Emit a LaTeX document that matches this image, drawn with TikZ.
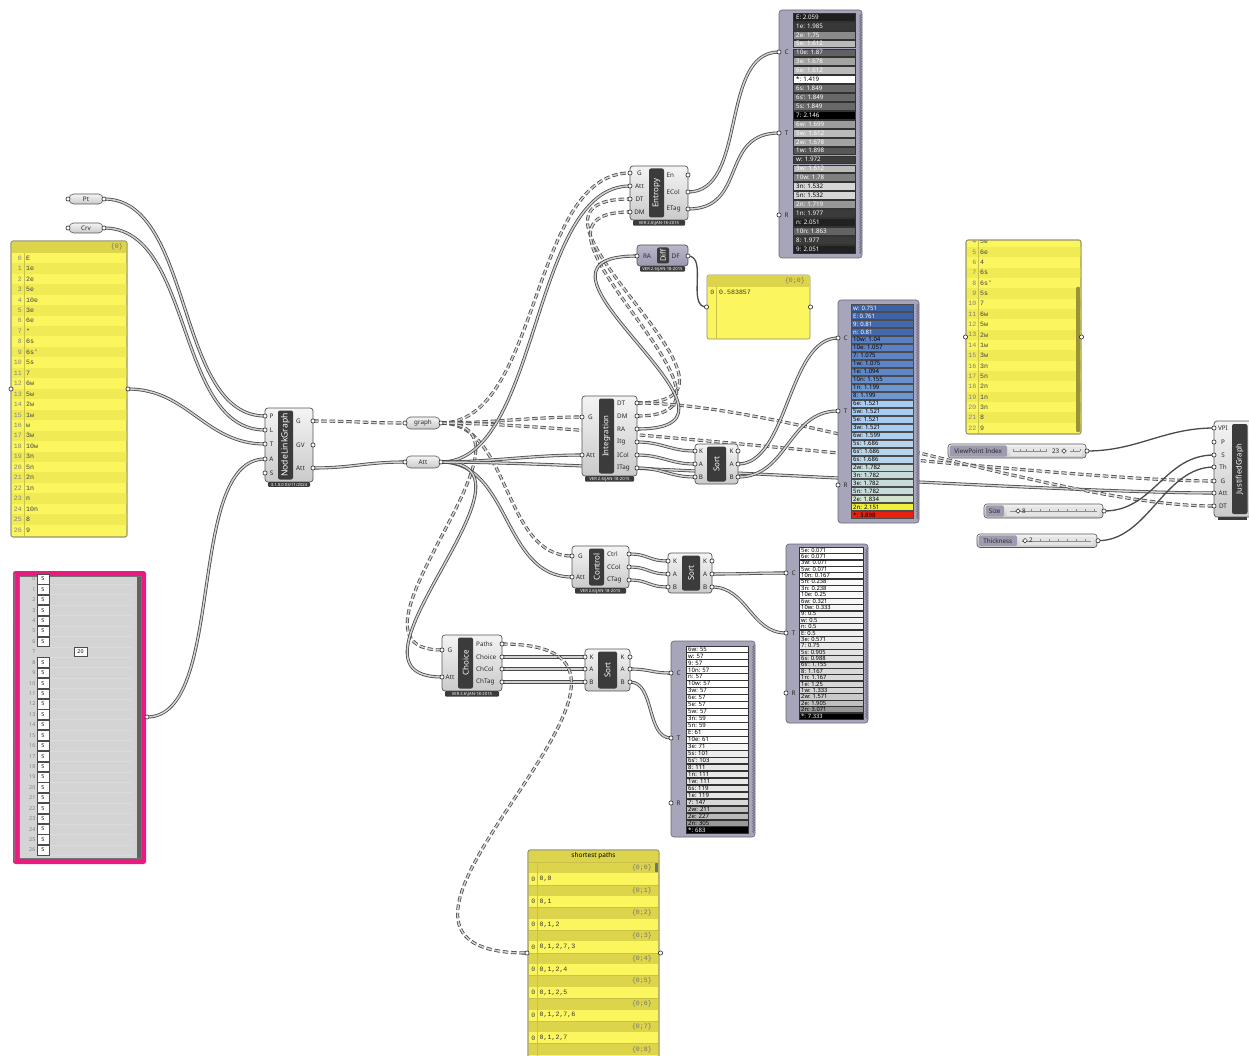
\documentclass[tikz,border=0pt]{standalone}
\usepackage{fontspec}
\setmainfont{Noto Sans}
\newfontfamily\panelfont{Liberation Mono}
\usetikzlibrary{decorations.pathmorphing}

\pgfdeclarelayer{back}
\pgfdeclarelayer{wires}
\pgfsetlayers{back,wires,main}

\definecolor{bodyedge}{HTML}{555555}
\definecolor{bodytop}{HTML}{F4F4F4}
\definecolor{bodybot}{HTML}{CACACA}
\definecolor{bardark}{HTML}{3B3B3B}
\definecolor{wirecol}{HTML}{4A4A4A}
\definecolor{wirefill}{HTML}{D2D2D2}
\definecolor{panelyel}{HTML}{FBF65E}
\definecolor{panelyel2}{HTML}{F0EB55}
\definecolor{panelhead}{HTML}{DCD54C}
\definecolor{paneledge}{HTML}{8C8A70}
\definecolor{panelline}{HTML}{C9C24A}
\definecolor{listframe}{HTML}{A6A5B9}
\definecolor{listedge}{HTML}{66667A}
\definecolor{pinkedge}{HTML}{EA1A80}
\definecolor{pinkin}{HTML}{D4D4D4}
\definecolor{diffA}{HTML}{BAB7CC}
\definecolor{diffB}{HTML}{9B98B0}
\definecolor{sliderlab}{HTML}{9D9BB0}
\definecolor{scrolldark}{HTML}{9A9235}

\tikzset{
  x=1pt, y=-1pt,
  body/.style={draw=bodyedge, line width=0.7pt, rounded corners=3pt,
    top color=bodytop, bottom color=bodybot},
  relay/.style={draw=bodyedge, line width=0.6pt, rounded corners=4.5pt,
    top color=bodytop, bottom color=bodybot},
  barbox/.style={fill=bardark, rounded corners=2pt},
  barlabel/.style={text=white, font=\bfseries\fontsize{8}{8}\selectfont, rotate=90, inner sep=0pt},
  plab/.style={font=\fontsize{6.3}{7}\selectfont, text=black!85, inner sep=0pt},
  grip/.style={circle, draw=black!85, fill=white, line width=0.6pt, inner sep=0pt, minimum size=4.2pt},
  vtag/.style={fill=bardark, rounded corners=1pt, text=white, font=\fontsize{4.2}{4.5}\selectfont, inner sep=0.8pt},
  wire/.style={draw=wirecol, double=wirefill, double distance=1.5pt, line width=0.8pt},
  treewire/.style={wire, dash pattern=on 5.5pt off 2.8pt},
  itemwire/.style={draw=wirecol, line width=1.3pt},
  ptext/.style={font=\panelfont\fontsize{6.6}{7}\selectfont, text=black!75, inner sep=0pt},
  itext/.style={font=\fontsize{6.2}{7}\selectfont, inner sep=0pt, anchor=west},
  listbox/.style={fill=listframe, draw=listedge, line width=0.6pt, rounded corners=3pt},
  teeth/.style={draw=listedge, line width=0.5pt, decorate,
    decoration={zigzag, segment length=2.6pt, amplitude=1pt}},
  yelbox/.style={draw=paneledge, fill=panelyel, line width=0.6pt, rounded corners=2pt},
}

\newcommand{\vertag}{VER 2.6\textbackslash JAN-18-2015}

% component: name, x1, y1, x2, y2, bar x1, bar x2, title, version tag
\newcommand{\ghcomp}[9]{%
  \path[body] (#2,#3) rectangle (#4,#5);
  \path[barbox] (#6,#3+2.5) rectangle (#7,#5-2.5);
  \node[barlabel] (#1-title) at ({(#6+#7)/2},{(#3+#5)/2}) {#8};
  \if\relax\detokenize{#9}\relax\else
    \node[vtag, anchor=north, minimum width={#4-#2-6}] (#1-ver) at ({(#2+#4)/2},#5) {#9};
  \fi
}
% input port: name, grip x, y, label x, label
\newcommand{\ghin}[5]{%
  \node[plab] (#1-lab) at (#4,#3) {#5};
  \node[grip] (#1) at (#2,#3) {};
}
% output port: label left-aligned at label x
\newcommand{\ghout}[5]{%
  \node[plab, anchor=west] (#1-lab) at (#4,#3) {#5};
  \node[grip] (#1) at (#2,#3) {};
}
% wire with horizontal tangents at both grips
\newcommand{\ghlink}[4][wire]{%
  \draw[#1] (#2.center) .. controls +(#4,0) and +(-#4,0) .. (#3.center);
}
% list output frame with serrated right edge
\newcommand{\listpanel}[4]{%
  \path[listbox] (#1,#2) rectangle (#3,#4);
  \draw[teeth] (#3-1.5,#2+4) -- (#3-1.5,#4-4);
}
\newcommand{\knob}[2]{%
  \draw[black!85, fill=white, line width=0.5pt] (#1,#2-2.3) -- (#1+2.3,#2) -- (#1,#2+2.3) -- (#1-2.3,#2) -- cycle;
}
\newcommand{\pathrow}[2]{%
  \fill[panelhead] (528.5,{862+22.7*#1}) rectangle (658.5,{873.35+22.7*#1});
  \draw[panelline, line width=0.4pt] (528.5,{862+22.7*#1}) -- (658.5,{862+22.7*#1});
  \node[ptext, anchor=east, text=black!55] (sp-h#1) at (652,{867.7+22.7*#1}) {\{0;#1\}};
  \node[ptext, anchor=east] (sp-n#1) at (535.5,{879+22.7*#1}) {0};
  \node[ptext, anchor=west, text=black!80] (sp-t#1) at (539.5,{879+22.7*#1}) {#2};
}

\begin{document}
\begin{tikzpicture}
\useasboundingbox (0,0) rectangle (1249,1056);
\begin{pgfonlayer}{back}
  \fill[white] (0,0) rectangle (1249,1056);
\end{pgfonlayer}

% ---------- Pt and Crv parameters ----------
\path[relay] (69,194) rectangle (103,204);
\node[plab] (pt-name) at (86,199) {Pt};
\node[grip] (pt-i) at (68,199) {};
\node[grip] (pt-o) at (104,199) {};
\path[relay] (69,223) rectangle (103,233);
\node[plab] (crv-name) at (86,228) {Crv};
\node[grip] (crv-i) at (68,228) {};
\node[grip] (crv-o) at (104,228) {};

% ---------- node tag panel ----------
\path[yelbox] (11,241) rectangle (127,537);
\fill[panelhead] (11.5,241.5) rectangle (126.5,253);
\node[ptext, anchor=east, text=black!55] (lp-head) at (123,247) {\{0\}};
\foreach \lbl [count=\i from 0] in {E,1e,2e,5e,10e,3e,6e,*,6s,6s',5s,7,6w,5w,2w,1w,w,3w,10w,3n,5n,2n,1n,n,10n,8,9}{
  \pgfmathsetmacro\yy{258+10.46*\i}
  \ifodd\i \fill[panelyel2] (11.5,\yy-5.2) rectangle (126.5,\yy+5.2); \fi
  \node[ptext, anchor=east, text=black!50] (lp-n\i) at (22,\yy) {\i};
  \node[ptext, anchor=west] (lp-t\i) at (26,\yy) {\lbl};
}
\draw[panelline, line width=0.5pt] (24,253) -- (24,536.5);
\draw[paneledge, line width=0.6pt, rounded corners=2pt] (11,241) rectangle (127,537);
\node[grip] (lp-i) at (11,389) {};
\node[grip] (lp-o) at (128,389) {};

% ---------- sizes panel ----------
\path[fill=pinkedge, rounded corners=2.5pt] (13,571) rectangle (146,864);
\path[fill=pinkin, draw=black!55, line width=0.5pt] (19,576.5) rectangle (141,858.5);
\fill[black!62] (136.5,577) rectangle (140.5,858);
\draw[black!50, line width=0.5pt, decorate, decoration={zigzag, segment length=2.4pt, amplitude=0.9pt}] (14.5,574) -- (14.5,861);
\foreach \i in {0,...,26}{
  \pgfmathsetmacro\yy{579+10.42*\i}
  \draw[black!14, line width=0.4pt] (50,\yy+5.2) -- (132,\yy+5.2);
  \node[font=\fontsize{5.3}{6}\selectfont, text=black!50, anchor=east, inner sep=0pt] (pk-n\i) at (35.5,\yy) {\i};
  \ifnum\i=7 \else
    \draw[black!70, fill=white, line width=0.45pt] (37,\yy-4.8) rectangle (49,\yy+4.8);
    \node[font=\fontsize{5.3}{6}\selectfont, inner sep=0pt] (pk-v\i) at (43,\yy) {5};
  \fi
}
\draw[black!70, fill=white, line width=0.45pt] (74,647.5) rectangle (87,656.5);
\node[font=\fontsize{5.3}{6}\selectfont, inner sep=0pt] (pk-v7) at (80.5,652) {20};
\node[grip] (pk-o) at (147,717) {};

% ---------- NodeLinkGraph ----------
\ghcomp{nlg}{265}{408}{313}{482}{278}{293}{{\fontsize{8.6}{9}\selectfont NodeLinkGraph}}{3.1.0.0 03/11/2024}
\ghin{nlg-P}{265}{416}{271.5}{P}
\ghin{nlg-L}{265}{430}{271.5}{L}
\ghin{nlg-T}{265}{444}{271.5}{T}
\ghin{nlg-A}{265}{459}{271.5}{A}
\ghin{nlg-S}{265}{473}{271.5}{S}
\ghout{nlg-G}{313}{421}{296}{G}
\ghout{nlg-GV}{313}{445}{296}{GV}
\ghout{nlg-Att}{313}{468}{296}{Att}

% ---------- relays ----------
\path[relay] (406,417) rectangle (440,429);
\node[plab] (gr-name) at (423,423) {graph};
\node[grip] (gr-i) at (405,423) {};
\node[grip] (gr-o) at (441,423) {};
\path[relay] (406,456) rectangle (440,468);
\node[plab] (at-name) at (423,462) {Att};
\node[grip] (at-i) at (405,462) {};
\node[grip] (at-o) at (441,462) {};

% ---------- Entropy ----------
\ghcomp{en}{630}{166}{688}{220}{649}{664}{Entropy}{\vertag}
\ghin{en-G}{630}{173}{639.5}{G}
\ghin{en-Att}{630}{186}{639.5}{Att}
\ghin{en-DT}{630}{199}{639.5}{DT}
\ghin{en-DM}{630}{212}{639.5}{DM}
\ghout{en-En}{688}{175}{666.5}{En}
\ghout{en-ECol}{688}{192}{666.5}{ECol}
\ghout{en-ETag}{688}{209}{666.5}{ETag}

% entropy values
\listpanel{779}{10}{862}{258}
\foreach \lbl/\pc [count=\i from 0] in {E: 2.059/12, 1e: 1.985/22, 2e: 1.75/54, 5e: 1.612/73, 10e: 1.87/38, 3e: 1.678/64, 6e: 1.612/73, *: 1.419/100, 6s: 1.849/41, 6s': 1.849/41, 5s: 1.849/41, 7: 2.146/0, 6w: 1.699/61, 5w: 1.612/73, 2w: 1.678/64, 1w: 1.898/34, w: 1.972/24, 3w: 1.612/73, 10w: 1.78/50, 3n: 1.532/84, 5n: 1.532/84, 2n: 1.719/59, 1n: 1.977/23, n: 2.051/13, 10n: 1.863/39, 8: 1.977/23, 9: 2.051/13}{
  \pgfmathsetmacro\yy{17+8.92*\i}
  \ifnum\pc<80 \def\tc{white}\else\def\tc{black}\fi
  \path[draw=black!80, line width=0.4pt, fill=white!\pc!black] (793,\yy-3.9) rectangle (855,\yy+3.9);
  \node[itext, text=\tc] (la-\i) at (796,\yy) {\lbl};
}
\ghin{l1-C}{779}{52}{786.5}{C}
\ghin{l1-T}{779}{133}{786.5}{T}
\ghin{l1-R}{779}{215}{786.5}{R}

% ---------- Diff ----------
\begin{scope}[body/.append style={top color=diffA, bottom color=diffB}]
\ghcomp{df}{637}{245}{688}{266}{657}{669}{{\fontsize{7.5}{8}\selectfont Diff}}{\vertag}
\end{scope}
\ghin{df-RA}{637}{256}{647}{RA}
\ghout{df-DF}{688}{256}{671.5}{DF}

\path[yelbox] (707,275) rectangle (810,339);
\fill[panelhead] (707.5,275.5) rectangle (809.5,287);
\node[ptext, anchor=east, text=black!55] (sm-head) at (805,281) {\{0;0\}};
\draw[panelline, line width=0.5pt] (716.5,287) -- (716.5,338.5);
\node[ptext, anchor=east] (sm-n0) at (714.5,292.5) {0};
\node[ptext, anchor=west, text=black!80] (sm-t0) at (719,292.5) {0.583857};
\node[grip] (sm-i) at (706.5,307) {};
\node[grip] (sm-o) at (810.5,307) {};

% ---------- Integration ----------
\ghcomp{in}{582}{396}{637}{476}{599}{614}{{\fontsize{7.8}{8}\selectfont Integration}}{\vertag}
\ghin{in-G}{582}{417}{590.5}{G}
\ghin{in-Att}{582}{455}{590.5}{Att}
\ghout{in-DT}{637}{403}{617}{DT}
\ghout{in-DM}{637}{416}{617}{DM}
\ghout{in-RA}{637}{429}{617}{RA}
\ghout{in-Itg}{637}{442}{617}{Itg}
\ghout{in-ICol}{637}{455}{617}{ICol}
\ghout{in-ITag}{637}{468}{617}{ITag}

\ghcomp{s1}{695}{444}{738}{484}{707}{726}{Sort}{}
\ghin{s1-Ki}{695}{451}{701}{K}
\ghin{s1-Ai}{695}{464}{701}{A}
\ghin{s1-Bi}{695}{477}{701}{B}
\ghout{s1-Ko}{738}{451}{729.5}{K}
\ghout{s1-Ao}{738}{464}{729.5}{A}
\ghout{s1-Bo}{738}{477}{729.5}{B}

% integration values
\listpanel{838}{300}{919}{523}
\foreach \lbl/\vr/\vg/\vb/\tc [count=\i from 0] in {w: 0.751/62/98/168/white, E: 0.761/63/99/169/white, 9: 0.81/68/104/173/white, n: 0.81/68/104/173/white, 10w: 1.04/90/128/196/black, 10e: 1.057/92/130/197/black, 7: 1.075/94/132/198/black, 1w: 1.075/94/132/198/black, 1e: 1.094/96/134/199/black, 10n: 1.155/104/144/204/black, 1n: 1.199/110/150/208/black, 8: 1.199/110/150/208/black, 6e: 1.521/168/203/242/black, 5w: 1.521/168/203/242/black, 5e: 1.521/168/203/242/black, 3w: 1.521/168/203/242/black, 6w: 1.599/176/207/238/black, 5s: 1.686/184/212/234/black, 6s': 1.686/184/212/234/black, 6s: 1.686/184/212/234/black, 2w: 1.782/198/219/218/black, 3n: 1.782/198/219/218/black, 3e: 1.782/198/219/218/black, 5n: 1.782/198/219/218/black, 2e: 1.834/210/226/204/black, 2n: 2.151/242/238/60/black, *: 3.898/232/32/14/black}{
  \pgfmathsetmacro\yy{308+7.96*\i}
  \definecolor{itemfill}{RGB}{\vr,\vg,\vb}
  \path[draw=black!70, line width=0.4pt, fill=itemfill] (851,\yy-3.5) rectangle (913,\yy+3.5);
  \node[itext, text=\tc, font=\fontsize{6}{7}\selectfont] (lb-\i) at (853,\yy) {\lbl};
}
\ghin{l2-C}{838}{338}{845.5}{C}
\ghin{l2-T}{838}{411}{845.5}{T}
\ghin{l2-R}{838}{485}{845.5}{R}

% ---------- Control ----------
\ghcomp{co}{572}{546}{629}{588}{589}{604}{Control}{\vertag}
\ghin{co-G}{572}{556}{580.5}{G}
\ghin{co-Att}{572}{577}{580.5}{Att}
\ghout{co-Ctrl}{629}{554}{607}{Ctrl}
\ghout{co-CCol}{629}{567}{607}{CCol}
\ghout{co-CTag}{629}{580}{607}{CTag}

\ghcomp{s2}{668}{553}{712}{593}{682}{700}{Sort}{}
\ghin{s2-Ki}{668}{561}{675}{K}
\ghin{s2-Ai}{668}{574}{675}{A}
\ghin{s2-Bi}{668}{587}{675}{B}
\ghout{s2-Ko}{712}{561}{703}{K}
\ghout{s2-Ao}{712}{574}{703}{A}
\ghout{s2-Bo}{712}{587}{703}{B}

% control values
\listpanel{786}{544}{868}{723}
\foreach \lbl/\pc [count=\i from 0] in {5e: 0.071/100, 6e: 0.071/100, 3w: 0.071/100, 5w: 0.071/100, 10n: 0.167/99, 5n: 0.238/98, 3n: 0.238/98, 10e: 0.25/98, 6w: 0.321/97, 10w: 0.333/96, 9: 0.5/94, w: 0.5/94, n: 0.5/94, E: 0.5/94, 3e: 0.571/93, 7: 0.75/91, 5s: 0.905/89, 6s: 0.988/87, 6s': 1.155/85, 8: 1.167/85, 1n: 1.167/85, 1e: 1.25/84, 1w: 1.333/83, 2w: 1.571/79, 2e: 1.905/75, 2n: 3.071/59, *: 7.333/0}{
  \pgfmathsetmacro\yy{550+6.38*\i}
  \ifnum\pc<50 \def\tc{white}\else\def\tc{black}\fi
  \path[draw=black!80, line width=0.4pt, fill=white!\pc!black] (799,\yy-3.05) rectangle (863,\yy+3.05);
  \node[itext, text=\tc, font=\fontsize{5.8}{6}\selectfont] (lc-\i) at (801,\yy) {\lbl};
}
\ghin{l3-C}{786}{573}{793.5}{C}
\ghin{l3-T}{786}{633}{793.5}{T}
\ghin{l3-R}{786}{693}{793.5}{R}

% ---------- Choice ----------
\ghcomp{ch}{442}{635}{502}{691}{458}{473}{Choice}{\vertag}
\ghin{ch-G}{442}{650}{450}{G}
\ghin{ch-Att}{442}{677}{450}{Att}
\ghout{ch-Paths}{502}{644}{476}{Paths}
\ghout{ch-Choice}{502}{657}{476}{Choice}
\ghout{ch-ChCol}{502}{669}{476}{ChCol}
\ghout{ch-ChTag}{502}{682}{476}{ChTag}

\ghcomp{s3}{585}{649}{630}{691}{598}{617}{Sort}{}
\ghin{s3-Ki}{585}{657}{591.5}{K}
\ghin{s3-Ai}{585}{669}{591.5}{A}
\ghin{s3-Bi}{585}{682}{591.5}{B}
\ghout{s3-Ko}{630}{657}{620.5}{K}
\ghout{s3-Ao}{630}{669}{620.5}{A}
\ghout{s3-Bo}{630}{682}{620.5}{B}

% choice values
\listpanel{671}{641}{755}{837}
\foreach \lbl/\pc [count=\i from 0] in {6w: 55/100, w: 57/100, 9: 57/100, 10n: 57/100, n: 57/100, 10w: 57/100, 3w: 57/100, 6e: 57/100, 5e: 57/100, 5w: 57/100, 3n: 59/99, 5n: 59/99, E: 61/99, 10e: 61/99, 3e: 71/97, 5s: 101/93, 6s': 103/92, 8: 111/91, 1n: 111/91, 1w: 111/91, 6s: 119/90, 1e: 119/90, 7: 147/85, 2w: 211/75, 2e: 227/73, 2n: 305/60, *: 683/0}{
  \pgfmathsetmacro\yy{649+6.96*\i}
  \ifnum\pc<50 \def\tc{white}\else\def\tc{black}\fi
  \path[draw=black!80, line width=0.4pt, fill=white!\pc!black] (686,\yy-3.3) rectangle (748,\yy+3.3);
  \node[itext, text=\tc, font=\fontsize{6}{6.5}\selectfont] (ld-\i) at (688,\yy) {\lbl};
}
\ghin{l4-C}{671}{673}{678.5}{C}
\ghin{l4-T}{671}{738}{678.5}{T}
\ghin{l4-R}{671}{803}{678.5}{R}

% ---------- shortest paths panel ----------
\begin{scope}
  \clip (520,840) rectangle (670,1056);
  \path[yelbox] (528,850) rectangle (659,1075);
  \fill[panelhead] (528.5,850.5) rectangle (658.5,862);
  \node[font=\fontsize{6.5}{7}\selectfont, inner sep=0pt] (sp-title) at (593.5,856) {shortest paths};
  \pathrow{0}{0,0}
  \pathrow{1}{0,1}
  \pathrow{2}{0,1,2}
  \pathrow{3}{0,1,2,7,3}
  \pathrow{4}{0,1,2,4}
  \pathrow{5}{0,1,2,5}
  \pathrow{6}{0,1,2,7,6}
  \pathrow{7}{0,1,2,7}
  \fill[panelhead] (528.5,1043.6) rectangle (658.5,1055);
  \draw[panelline, line width=0.4pt] (528.5,1043.6) -- (658.5,1043.6);
  \node[ptext, anchor=east, text=black!55] (sp-h8) at (652,1049.3) {\{0;8\}};
  \draw[panelline, line width=0.5pt] (537.5,862) -- (537.5,1060);
  \fill[black!55, rounded corners=0.5pt] (655,863) rectangle (658,872);
  \draw[paneledge, line width=0.6pt, rounded corners=2pt] (528,850) rectangle (659,1075);
\end{scope}
\node[grip] (pa-i) at (527,953) {};
\node[grip] (pa-o) at (660.5,953) {};

% ---------- tag panel (scrolled) ----------
\path[yelbox] (966,240) rectangle (1081,434);
\begin{scope}
  \clip[rounded corners=2pt] (966,240) rectangle (1081,434);
  \foreach \lbl [count=\i from 4] in {5e,6e,4,6s,6s',5s,7,6w,5w,2w,1w,3w,3n,5n,2n,1n,3n,8,9}{
    \pgfmathsetmacro\yy{252+10.35*(\i-5)}
    \ifodd\i \fill[panelyel2] (966.5,\yy-5.17) rectangle (1080.5,\yy+5.17); \fi
    \node[ptext, anchor=east, text=black!50] (rp-n\i) at (976.5,\yy) {\i};
    \node[ptext, anchor=west] (rp-t\i) at (980,\yy) {\lbl};
  }
  \draw[panelline, line width=0.5pt] (978.5,240) -- (978.5,434);
  \fill[scrolldark, rounded corners=1pt] (1076,287) rectangle (1080,432);
\end{scope}
\draw[paneledge, rounded corners=2pt, line width=0.6pt] (966,240) rectangle (1081,434);
\node[grip] (rp-i) at (965.5,337) {};
\node[grip] (rp-o) at (1081.5,337) {};

% ---------- sliders ----------
\path[relay, rounded corners=3pt] (948,444) rectangle (1086,458);
\path[fill=sliderlab, rounded corners=2pt] (949.5,445.3) rectangle (1007,456.7);
\node[plab] (vpi-lab) at (978.2,451) {ViewPoint Index};
\fill[white!90!black] (1010,446.5) rectangle (1082,455.5);
\draw[black!45, line width=0.4pt] (1013,451) -- (1080,451);
\foreach \x in {1013,1019.7,...,1080} \draw[black!45, line width=0.4pt] (\x,449) -- (\x,451);
\fill[white!90!black] (1047,447) rectangle (1070,455);
\node[plab, anchor=east] (vpi-val) at (1059.5,451) {23};
\knob{1064}{451}
\node[grip] (vpi-o) at (1087,451) {};

\path[relay, rounded corners=3pt] (984,504) rectangle (1103,518);
\path[fill=sliderlab, rounded corners=2pt] (985.5,505.3) rectangle (1004,516.7);
\node[plab] (size-lab) at (994.7,511) {Size};
\fill[white!90!black] (1007,506.5) rectangle (1099,515.5);
\draw[black!45, line width=0.4pt] (1010,511) -- (1097,511);
\foreach \x in {1031,1040,...,1095} \draw[black!45, line width=0.4pt] (\x,509) -- (\x,511);
\knob{1018}{511}
\node[plab, anchor=west] (size-val) at (1022,511) {8};
\node[grip] (size-o) at (1104,511) {};

\path[relay, rounded corners=3pt] (977,534) rectangle (1097,547.5);
\path[fill=sliderlab, rounded corners=2pt] (978.5,535.3) rectangle (1017,546.2);
\node[plab] (thk-lab) at (997.7,540.7) {Thickness};
\fill[white!90!black] (1020,536.5) rectangle (1093,545);
\draw[black!45, line width=0.4pt] (1022,540.7) -- (1091,540.7);
\foreach \x in {1040,1049,...,1090} \draw[black!45, line width=0.4pt] (\x,538.7) -- (\x,540.7);
\knob{1025}{540.7}
\node[plab, anchor=west] (thk-val) at (1029,540.7) {2};
\node[grip] (thk-o) at (1098,540.7) {};

% ---------- JustifiedGraph ----------
\begin{scope}
  \clip (1200,400) rectangle (1249,530);
  \path[body] (1214,421) rectangle (1258,517);
  \path[barbox] (1232,424) rectangle (1247.5,514);
  \node[barlabel, font=\bfseries\fontsize{7.6}{8}\selectfont] (jg-title) at (1239.7,469) {JustifiedGraph};
  \fill[bardark] (1218,517) rectangle (1247,520);
\end{scope}
\ghin{jg-VPI}{1214}{428}{1223}{VPI}
\ghin{jg-P}{1214}{442}{1223}{P}
\ghin{jg-S}{1214}{455}{1223}{S}
\ghin{jg-Th}{1214}{467}{1223}{Th}
\ghin{jg-G}{1214}{481}{1223}{G}
\ghin{jg-Att}{1214}{493}{1223}{Att}
\ghin{jg-DT}{1214}{506}{1223}{DT}

% ---------- wires ----------
\begin{pgfonlayer}{wires}
  \ghlink{pt-o}{nlg-P}{90}
  \ghlink{crv-o}{nlg-L}{90}
  \ghlink{lp-o}{nlg-T}{60}
  \ghlink{pk-o}{nlg-A}{80}
  \ghlink[treewire]{nlg-G}{gr-i}{40}
  \ghlink{nlg-Att}{at-i}{40}

  \ghlink[treewire]{gr-o}{en-G}{100}
  \ghlink[treewire]{gr-o}{in-G}{50}
  \ghlink[treewire]{gr-o}{co-G}{70}
  \ghlink[treewire]{gr-o}{ch-G}{120}
  \ghlink[treewire]{gr-o}{jg-G}{150}

  \ghlink{at-o}{en-Att}{100}
  \ghlink{at-o}{in-Att}{50}
  \ghlink{at-o}{co-Att}{70}
  \ghlink{at-o}{ch-Att}{120}
  \ghlink{at-o}{jg-Att}{150}

  \ghlink[treewire]{in-DT}{en-DT}{150}
  \ghlink[treewire]{in-DM}{en-DM}{140}
  \ghlink[treewire]{in-DT}{jg-DT}{150}
  \ghlink{in-RA}{df-RA}{145}
  \ghlink[itemwire]{df-DF}{sm-i}{20}

  \ghlink{en-ECol}{l1-C}{60}
  \ghlink{en-ETag}{l1-T}{60}

  \ghlink{in-Itg}{s1-Ki}{25}
  \ghlink{in-ICol}{s1-Ai}{25}
  \ghlink{in-ITag}{s1-Bi}{25}
  \ghlink{s1-Ao}{l2-C}{50}
  \ghlink{s1-Bo}{l2-T}{50}

  \ghlink{co-Ctrl}{s2-Ki}{20}
  \ghlink{co-CCol}{s2-Ai}{20}
  \ghlink{co-CTag}{s2-Bi}{20}
  \ghlink{s2-Ao}{l3-C}{35}
  \ghlink{s2-Bo}{l3-T}{35}

  \ghlink{ch-Choice}{s3-Ki}{30}
  \ghlink{ch-ChCol}{s3-Ai}{30}
  \ghlink{ch-ChTag}{s3-Bi}{30}
  \ghlink{s3-Ao}{l4-C}{20}
  \ghlink{s3-Bo}{l4-T}{25}
  \ghlink[treewire]{ch-Paths}{pa-i}{230}

  \ghlink[itemwire]{vpi-o}{jg-VPI}{50}
  \ghlink[itemwire]{size-o}{jg-S}{50}
  \ghlink[itemwire]{thk-o}{jg-Th}{50}
\end{pgfonlayer}
\end{tikzpicture}
\end{document}
